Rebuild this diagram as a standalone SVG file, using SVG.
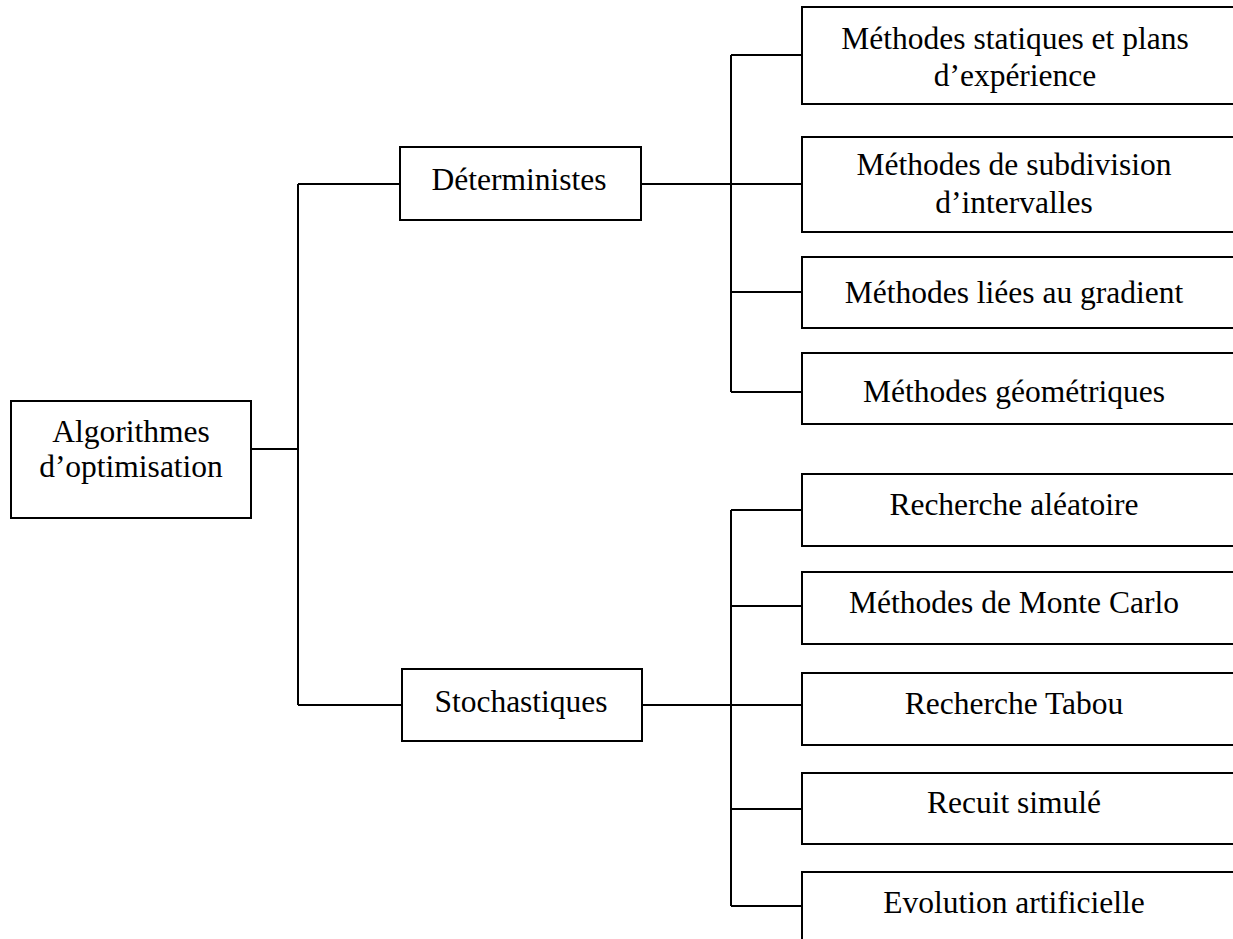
<svg xmlns="http://www.w3.org/2000/svg" width="1233" height="939" viewBox="0 0 1233 939">
<style>
.box{fill:#fff;stroke:#000;stroke-width:2}
.c{fill:none;stroke:#000;stroke-width:2}
text{font-family:"Liberation Serif","Times New Roman",serif;font-size:31.5px;fill:#000;text-anchor:middle}
</style>
<rect width="1233" height="939" fill="#fff"/>
<g id="connectors">
<path class="c" d="M251,449 H298 M298,184 V705 M298,184 H400 M298,705 H402"/>
<path class="c" d="M641,184 H802 M731,55 V392 M731,55 H802 M731,292 H802 M731,392 H802"/>
<path class="c" d="M642,705 H802 M731,510 V906 M731,510 H802 M731,606 H802 M731,809 H802 M731,906 H802"/>
</g>
<g id="root"><rect class="box" x="11" y="401" width="240" height="117"/><text x="131" y="442">Algorithmes</text><text x="131" y="477">d’optimisation</text></g>
<g id="det"><rect class="box" x="400" y="147" width="241" height="73"/><text x="519" y="190">Déterministes</text></g>
<g id="sto"><rect class="box" x="402" y="669" width="240" height="72"/><text x="521" y="712">Stochastiques</text></g>
<g id="d1"><rect class="box" x="802" y="7" width="440" height="97"/><text x="1015" y="49">Méthodes statiques et plans</text><text x="1015" y="86">d’expérience</text></g>
<g id="d2"><rect class="box" x="802" y="137" width="440" height="95"/><text x="1014" y="175">Méthodes de subdivision</text><text x="1014" y="213">d’intervalles</text></g>
<g id="d3"><rect class="box" x="802" y="257" width="440" height="71"/><text x="1014" y="303">Méthodes liées au gradient</text></g>
<g id="d4"><rect class="box" x="802" y="353" width="440" height="71"/><text x="1014" y="402">Méthodes géométriques</text></g>
<g id="s1"><rect class="box" x="802" y="474" width="440" height="72"/><text x="1014" y="515">Recherche aléatoire</text></g>
<g id="s2"><rect class="box" x="802" y="572" width="440" height="72"/><text x="1014" y="613">Méthodes de Monte Carlo</text></g>
<g id="s3"><rect class="box" x="802" y="673" width="440" height="72"/><text x="1014" y="714">Recherche Tabou</text></g>
<g id="s4"><rect class="box" x="802" y="773" width="440" height="71"/><text x="1014" y="813">Recuit simulé</text></g>
<g id="s5"><rect class="box" x="802" y="872" width="440" height="80"/><text x="1014" y="913">Evolution artificielle</text></g>
</svg>
